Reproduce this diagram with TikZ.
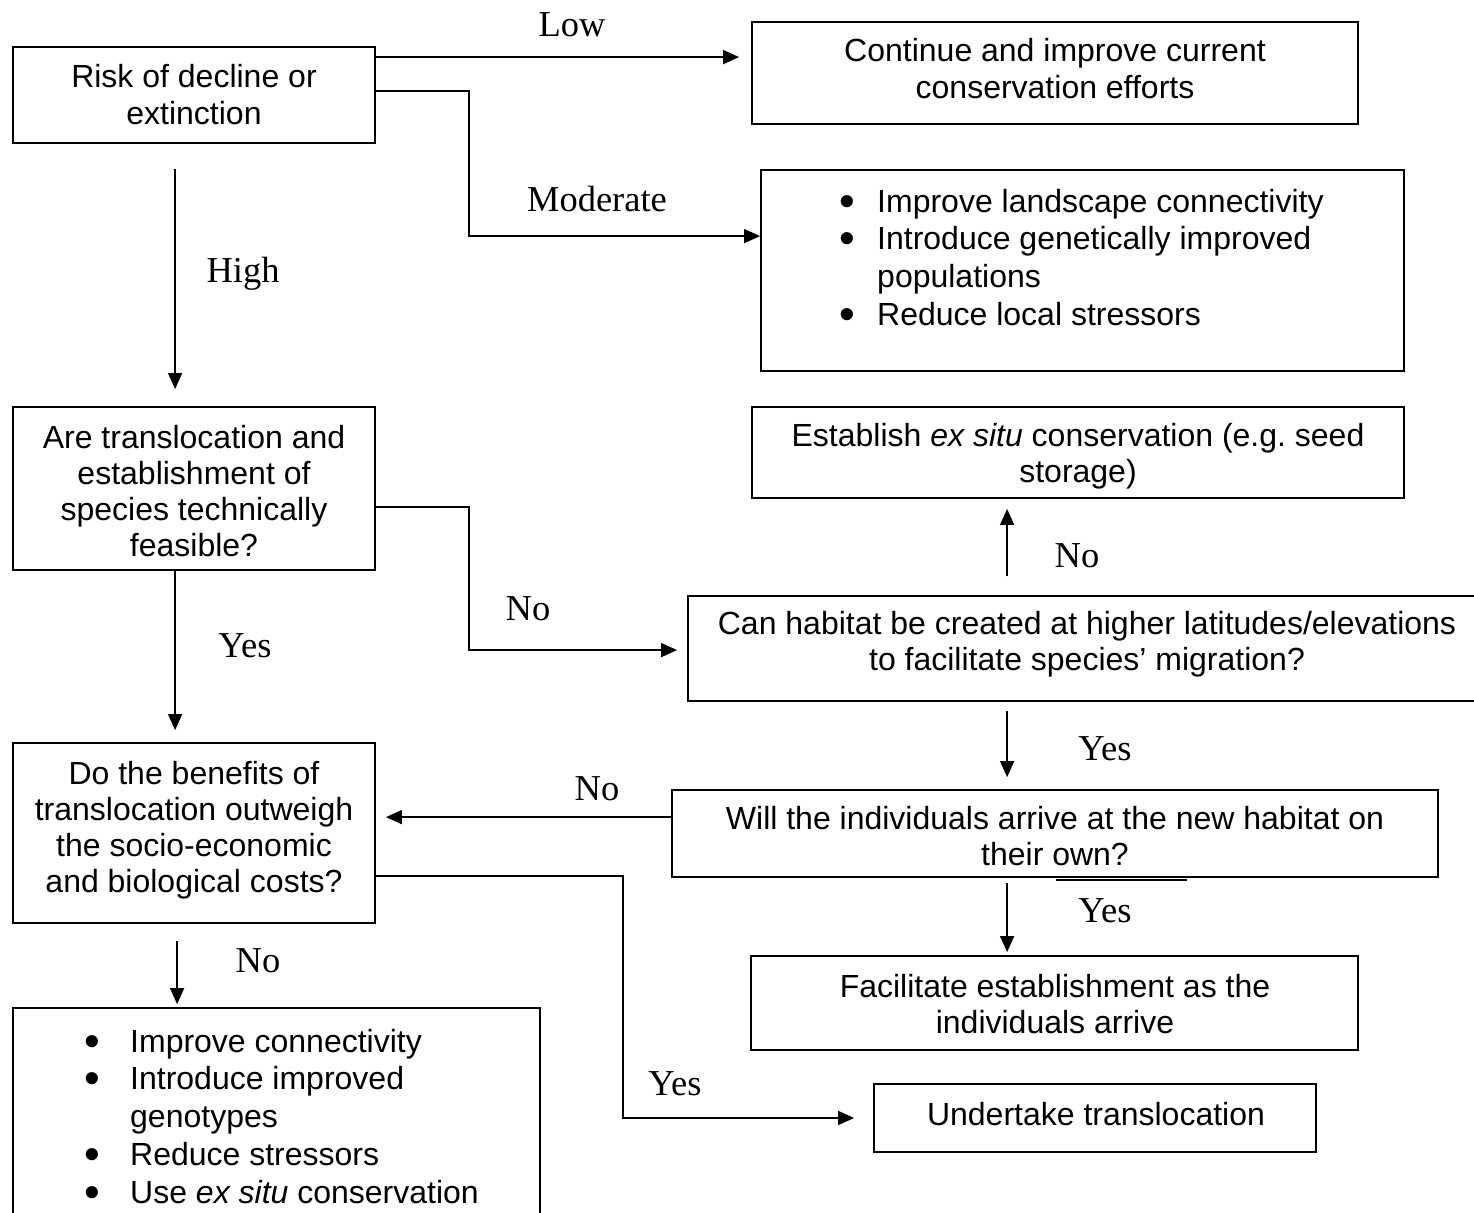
\documentclass[tikz,border=0pt]{standalone}
\usepackage{fontspec}
\setmainfont{Liberation Sans}
\newfontfamily\lblfont{Liberation Serif}
\usetikzlibrary{arrows.meta,calc,fit}

% bullet columns for the two option lists
\newcommand\bigbul{\raisebox{-4pt}{\scalebox{1.4}{\textbullet}}}
\newcommand\bulA{\makebox[38pt][l]{\bigbul}}
\newcommand\bulB{\makebox[46pt][l]{\bigbul}}

\begin{document}
\begin{tikzpicture}[x=1pt,y=-1pt,
  box/.style={draw, line width=1.8pt, inner sep=0pt, rectangle},
  txt/.style={inner sep=0pt, anchor=base, font=\fontsize{32}{36.3}\selectfont},
  btxt/.style={inner sep=0pt, anchor=base west, font=\fontsize{32}{37.8}\selectfont},
  lbl/.style={inner sep=0pt, anchor=base, font=\lblfont\fontsize{36.5}{40}\selectfont},
  arr/.style={line width=1.5pt, -{Triangle[length=16pt,width=14pt]}}]

\useasboundingbox (0,0) rectangle (1474,1212);
\fill[white] (0,0) rectangle (1474,1212);
\clip (0,0) rectangle (1474,1212);

% ---- boxes ----
\node[box, fit={(13,47) (375,143)}] (risk) {};
\node[box, fit={(752,22) (1358,124)}] (cont) {};
\node[box, fit={(761,170) (1404,371)}] (modb) {};
\node[box, fit={(13,407) (375,570)}] (feas) {};
\node[box, fit={(752,407) (1404,498)}] (exsitu) {};
\node[box, fit={(688,596) (1486,701)}] (habitat) {};
\node[box, fit={(13,743) (375,923)}] (benefit) {};
\node[box, fit={(672,790) (1438,877)}] (arrive) {};
\node[box, fit={(751,956) (1358,1050)}] (facil) {};
\node[box, fit={(874,1084) (1316,1152)}] (undertake) {};
\node[box, fit={(13,1008) (540,1240)}] (measures) {};

% ---- box texts ----
\node[txt] (riskT) at (194,88) {\parbox[t]{360pt}{\centering Risk of decline or\\extinction}};
\node[txt] (contT) at (1055,62) {\parbox[t]{600pt}{\centering Continue and improve current\\conservation efforts}};
\node[btxt] (modT) at (839,212) {\parbox[t]{560pt}{\raggedright
  \bulA Improve landscape connectivity\\
  \bulA Introduce genetically improved\\
  \hspace*{38pt}populations\\
  \bulA Reduce local stressors}};
\node[txt] (feasT) at (194,448) {\parbox[t]{360pt}{\centering Are translocation and\\establishment of\\species technically\\feasible?}};
\node[txt] (exsituT) at (1078,446) {\parbox[t]{650pt}{\centering Establish \textit{ex situ} conservation (e.g.\ seed\\storage)}};
\node[txt] (habitatT) at (1087,634) {\parbox[t]{790pt}{\centering Can habitat be created at higher latitudes/elevations\\to facilitate species’ migration?}};
\node[txt] (benefitT) at (194,784) {\parbox[t]{360pt}{\centering Do the benefits of\\translocation outweigh\\the socio-economic\\and biological costs?}};
\node[txt] (arriveT) at (1055,829) {\parbox[t]{760pt}{\centering Will the individuals arrive at the new habitat on\\their own?}};
\node[txt] (facilT) at (1055,997) {\parbox[t]{600pt}{\centering Facilitate establishment as the\\individuals arrive}};
\node[txt] (undertakeT) at (1096,1125) {Undertake translocation};
\node[btxt] (measT) at (84,1052) {\parbox[t]{450pt}{\raggedright
  \bulB Improve connectivity\\
  \bulB Introduce improved\\
  \hspace*{46pt}genotypes\\
  \bulB Reduce stressors\\
  \bulB Use \textit{ex situ} conservation}};

% ---- branch labels ----
\node[lbl] (lLow) at (572,37) {Low};
\node[lbl] (lMod) at (597,211) {Moderate};
\node[lbl] (lHigh) at (243,282) {High};
\node[lbl] (lYesA) at (245,657) {Yes};
\node[lbl] (lNoA) at (528,620) {No};
\node[lbl] (lNoB) at (1077,567) {No};
\node[lbl] (lYesB) at (1105,760) {Yes};
\node[lbl] (lNoC) at (597,800) {No};
\node[lbl] (lYesC) at (1105,922) {Yes};
\node[lbl] (lNoD) at (258,972) {No};
\node[lbl] (lYesD) at (675,1095) {Yes};

% ---- connectors ----
\coordinate (lowS) at ($(risk.north east)+(0,11)$);
\draw[arr, shorten >=12pt] (lowS) -- (lowS -| cont.west);

\coordinate (modS) at ($(risk.north east)+(0,45)$);
\coordinate (modE) at ($(modb.north west)+(0,67)$);
\draw[arr] (modS) -- ++(93,0) |- (modE);

\draw[arr, shorten <=25pt, shorten >=17pt]
  ($(risk.south west)+(163,0)$) -- ($(feas.north west)+(163,0)$);

\draw[arr, shorten >=12pt]
  ($(feas.south west)+(163,0)$) -- ($(benefit.north west)+(163,0)$);

\coordinate (noS) at ($(feas.north east)+(0,101)$);
\coordinate (noE) at ($(habitat.north west)+(0,55)$);
\draw[arr, shorten >=10pt] (noS) -- ++(93,0) |- (noE);

\draw[arr, shorten <=19pt, shorten >=10pt]
  ($(habitat.north west)+(320,0)$) -- ($(exsitu.south west)+(256,0)$);

\draw[arr, shorten <=9pt, shorten >=12pt]
  ($(habitat.south west)+(320,0)$) -- ($(arrive.north west)+(336,0)$);

\coordinate (retS) at ($(arrive.north west)+(0,28)$);
\draw[arr, shorten >=10pt] (retS) -- (retS -| benefit.east);

\draw[arr, shorten <=5pt, shorten >=3pt]
  ($(arrive.south west)+(336,0)$) -- ($(facil.north west)+(257,0)$);

\draw[arr, shorten <=17pt, shorten >=3pt]
  ($(benefit.south west)+(165,0)$) -- ($(measures.north west)+(165,0)$);

\coordinate (trS) at ($(benefit.north east)+(0,134)$);
\draw[arr, shorten >=19pt] (trS) -- ++(247,0) |- (undertake.west);

% short rule below the arrival box
\draw[line width=1.2pt] ($(arrive.south west)+(385,2)$) -- ++(131,0);

\end{tikzpicture}
\end{document}
